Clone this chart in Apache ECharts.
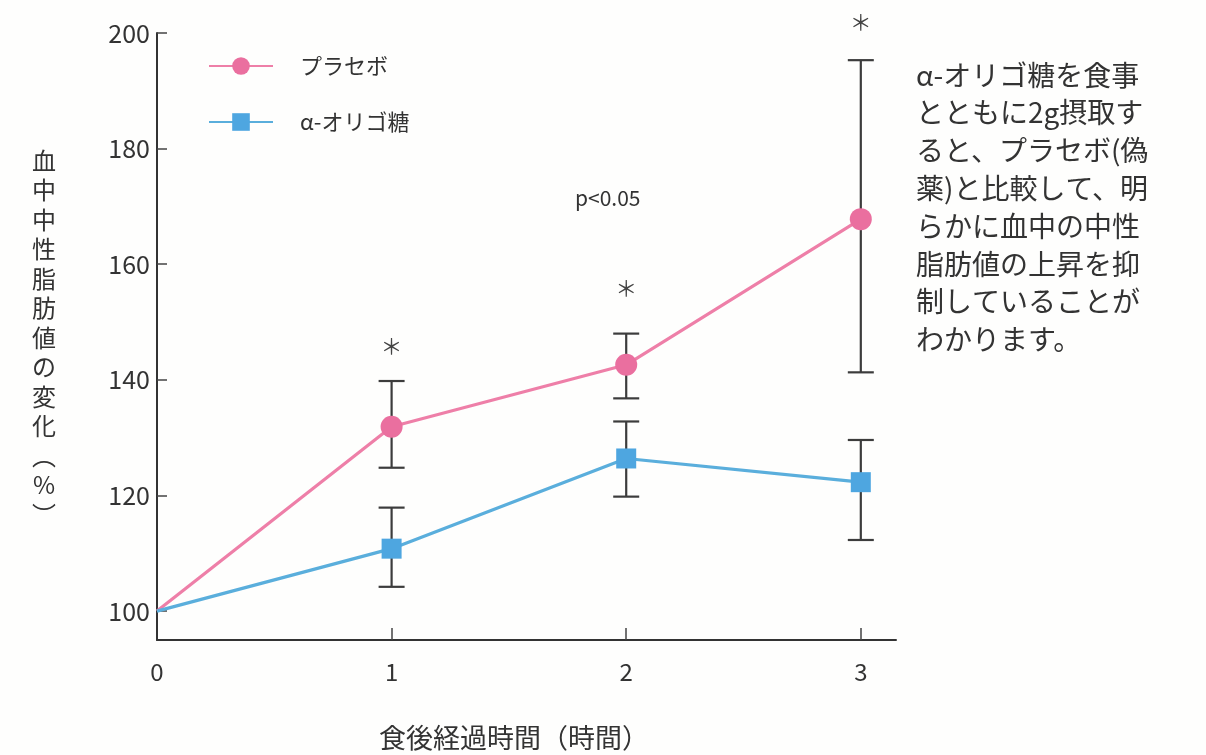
<!DOCTYPE html>
<html>
<head>
<meta charset="utf-8">
<script src="https://cdn.jsdelivr.net/npm/echarts@6/dist/echarts.min.js"></script>
<style>
  html, body { margin: 0; padding: 0; background: #fefefd; }
  #chart { width: 1206px; height: 755px; }
</style>
</head>
<body>
<div id="chart"></div>
<script>
// 食後経過時間（時間）
const hours = [0, 1, 2, 3]
// プラセボ
const placeboMean = [100, 131.9, 142.6, 167.8]
const placeboLow = [null, 124.8, 136.8, 141.3]
const placeboHigh = [null, 139.8, 148.0, 195.3]
// α-オリゴ糖
const oligoMean = [100, 110.8, 126.4, 122.3]
const oligoLow = [null, 104.2, 119.8, 112.3]
const oligoHigh = [null, 117.9, 132.8, 129.6]
// 有意差マーク（*）の位置
const starHours = [1, 2, 3]
const starValues = [146, 156, 202]
const yTicks = [100, 120, 140, 160, 180, 200]
const xTicks = [0, 1, 2, 3]

const noteLines = [
  'α-オリゴ糖を食事',
  'とともに2g摂取す',
  'ると、プラセボ(偽',
  '薬)と比較して、明',
  'らかに血中の中性',
  '脂肪値の上昇を抑',
  '制していることが',
  'わかります。'
]
const yName = ['血', '中', '中', '性', '脂', '肪', '値', 'の', '変', '化', '︵', '%', '︶']

const font = '"Noto Sans CJK JP", "Noto Sans", sans-serif'
const pink = '#ea6f9f'
const blue = '#4ea6e0'

const chart = echarts.init(document.getElementById('chart'))

const toLine = (vals) => vals.map((v, i) => ({
  value: [hours[i], v],
  symbol: i === 0 ? 'none' : undefined
}))

const errData = (low, high) => hours
  .map((h, i) => [h, low[i], high[i]])
  .filter(d => d[1] != null)

const errSeries = (name, low, high) => ({
  type: 'custom',
  name: name + '-err',
  z: 1,
  silent: true,
  clip: false,
  data: errData(low, high),
  renderItem: (params, api) => {
    const top = api.coord([api.value(0), api.value(2)])
    const bot = api.coord([api.value(0), api.value(1)])
    const hw = 13
    const style = { stroke: '#3c3c3c', lineWidth: 2.2 }
    return {
      type: 'group',
      children: [
        { type: 'line', shape: { x1: top[0], y1: top[1], x2: bot[0], y2: bot[1] }, style },
        { type: 'line', shape: { x1: top[0] - hw, y1: top[1], x2: top[0] + hw, y2: top[1] }, style },
        { type: 'line', shape: { x1: bot[0] - hw, y1: bot[1], x2: bot[0] + hw, y2: bot[1] }, style }
      ]
    }
  }
})

const option = {
  backgroundColor: '#fefefd',
  animation: false,
  grid: { left: 157, right: 310, top: 33, bottom: 115 },
  legend: {
    orient: 'vertical',
    left: 203,
    top: 50,
    itemWidth: 64,
    itemHeight: 22,
    itemGap: 34,
    data: ['プラセボ', 'α-オリゴ糖'],
    textStyle: { fontFamily: font, fontSize: 22, color: '#333', padding: [0, 0, 0, 22] }
  },
  xAxis: {
    type: 'value',
    min: 0,
    max: 3.15,
    axisLine: { lineStyle: { color: '#333', width: 2 } },
    axisTick: { inside: true, length: 12, customValues: [1, 2, 3], lineStyle: { color: '#444', width: 1.5 } },
    axisLabel: { customValues: xTicks, margin: 20, fontFamily: font, fontSize: 24, color: '#333' },
    splitLine: { show: false }
  },
  yAxis: {
    type: 'value',
    min: 95,
    max: 200,
    axisLine: { show: true, lineStyle: { color: '#333', width: 2 } },
    axisTick: { show: true, inside: true, length: 10, customValues: yTicks, lineStyle: { color: '#444', width: 1.5 } },
    axisLabel: { customValues: yTicks, margin: 7, fontFamily: font, fontSize: 25, color: '#333' },
    splitLine: { show: false }
  },
  series: [
    errSeries('プラセボ', placeboLow, placeboHigh),
    errSeries('α-オリゴ糖', oligoLow, oligoHigh),
    {
      name: 'プラセボ',
      type: 'line',
      z: 3,
      data: toLine(placeboMean),
      symbol: 'circle',
      symbolSize: 22,
      lineStyle: { color: '#ee7fa8', width: 3.2 },
      itemStyle: { color: pink }
    },
    {
      name: 'α-オリゴ糖',
      type: 'line',
      z: 3,
      data: toLine(oligoMean),
      symbol: 'rect',
      symbolSize: 20,
      lineStyle: { color: '#5aaedc', width: 3.2 },
      itemStyle: { color: blue }
    },
    {
      type: 'custom',
      name: 'stars',
      silent: true,
      clip: false,
      data: starHours.map((h, i) => [h, starValues[i]]),
      renderItem: (params, api) => {
        const p = api.coord([api.value(0), api.value(1)])
        return {
          type: 'text',
          x: p[0],
          y: p[1],
          style: { text: '＊', fontFamily: font, fontSize: 22, fill: '#444', align: 'center', verticalAlign: 'middle' }
        }
      }
    }
  ],
  graphic: [
    {
      type: 'text',
      left: 575,
      top: 188,
      style: { text: 'p<0.05', fontFamily: font, fontSize: 21, fill: '#333' }
    },
    {
      type: 'text',
      x: 44,
      y: 146,
      style: {
        text: yName.join('\n'),
        fontFamily: font,
        fontSize: 24,
        lineHeight: 29.5,
        fill: '#333',
        align: 'center'
      }
    },
    {
      type: 'text',
      x: 514,
      y: 738,
      style: { text: '食後経過時間（時間）', fontFamily: font, fontSize: 27, fill: '#333', align: 'center', verticalAlign: 'middle' }
    },
    {
      type: 'text',
      left: 916,
      top: 56,
      style: {
        text: noteLines.join('\n'),
        fontFamily: font,
        fontSize: 28,
        lineHeight: 37.8,
        fill: '#333'
      }
    }
  ]
}

chart.setOption(option)
</script>
</body>
</html>
